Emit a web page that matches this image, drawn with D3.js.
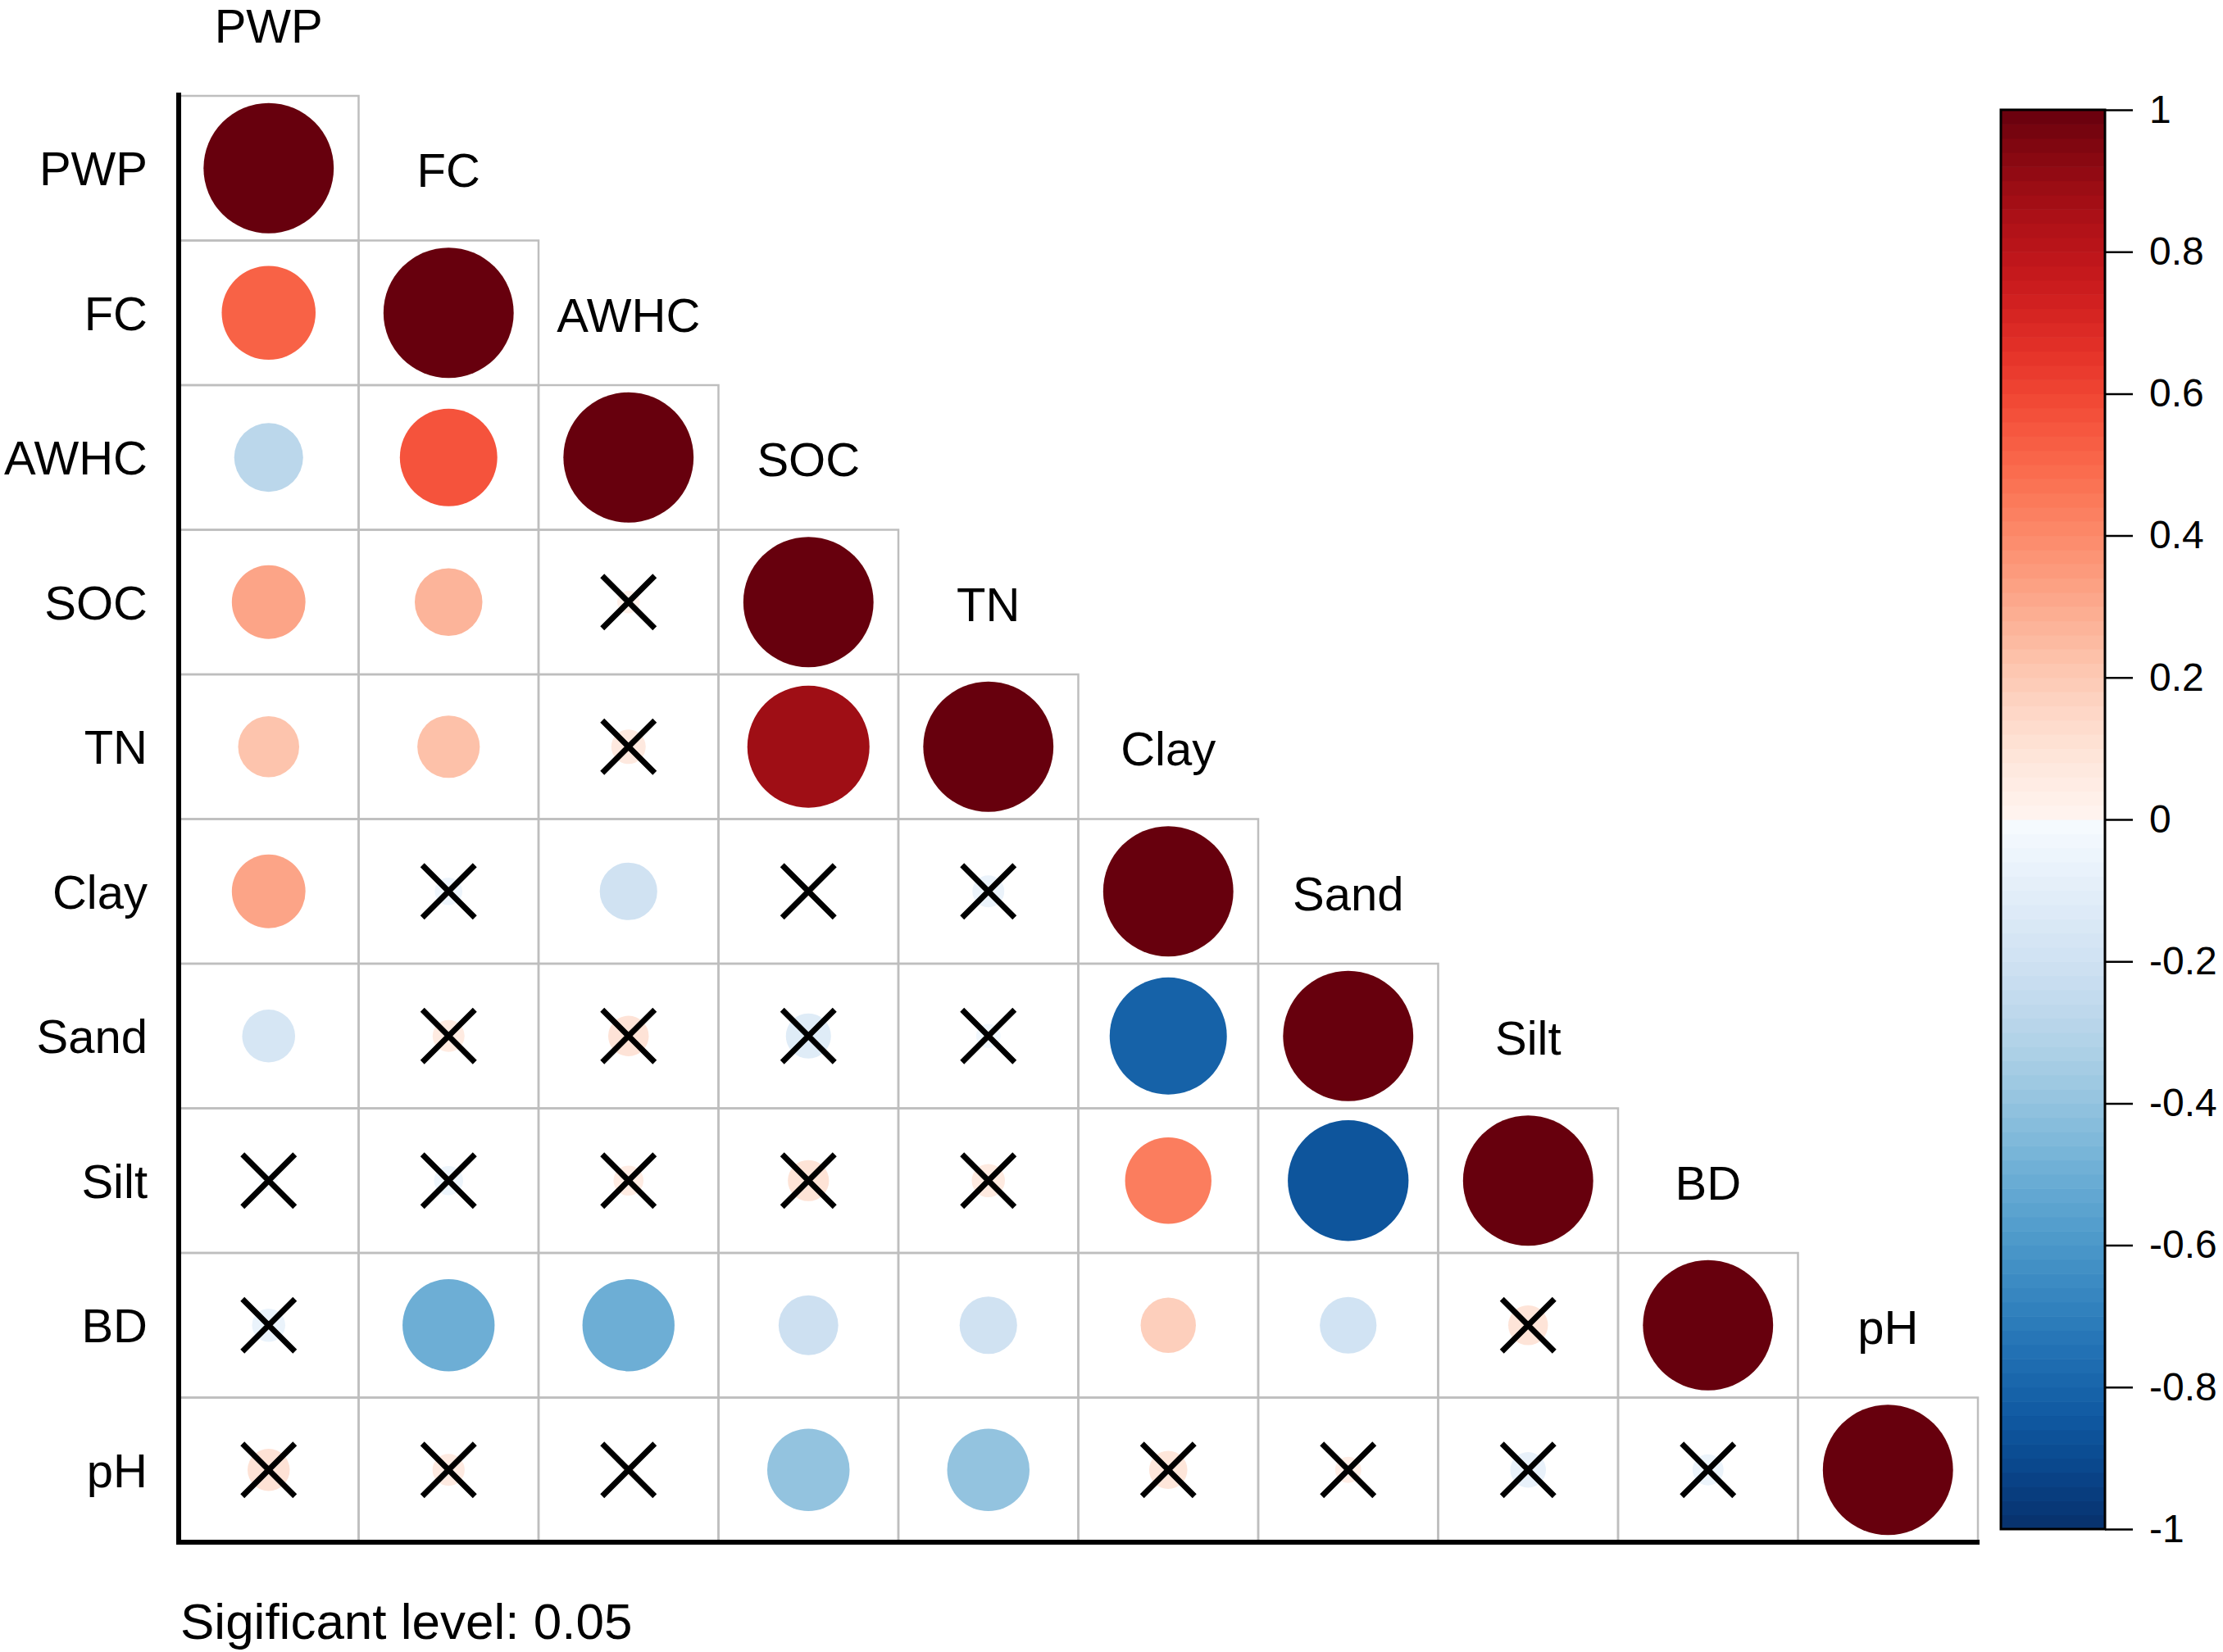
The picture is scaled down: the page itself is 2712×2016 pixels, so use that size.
<!DOCTYPE html>
<html>
<head>
<meta charset="utf-8">
<script src="https://cdn.jsdelivr.net/npm/d3@7"></script>
<style>
body { margin: 0; background: #fff; }
svg { display: block; }
</style>
</head>
<body>
<div id="chart"></div>
<script>
var w = 2712;
var h = 2016;
var font = "Arial, 'Liberation Sans', sans-serif";

// variables, lower triangle of correlations (row i, cols 0..i)
var vars = ["PWP", "FC", "AWHC", "SOC", "TN", "Clay", "Sand", "Silt", "BD", "pH"];
var corr = [
    [1],
    [0.52, 1],
    [-0.28, 0.56, 1],
    [0.32, 0.27, 0.03, 1],
    [0.22, 0.23, 0.07, 0.88, 1],
    [0.32, -0.045, -0.195, 0.01, -0.06, 1],
    [-0.165, 0.06, 0.097, -0.12, -0.035, -0.81, 1],
    [-0.02, -0.05, 0.053, 0.10, 0.065, 0.44, -0.86, 1],
    [-0.065, -0.50, -0.50, -0.21, -0.195, 0.18, -0.19, 0.093, 1],
    [0.105, 0.061, 0.01, -0.40, -0.40, 0.086, 0.04, -0.075, -0.057, 1]
];
// 1 = not significant at 0.05 (crossed)
var notSig = [
    [0],
    [0, 0],
    [0, 0, 0],
    [0, 0, 1, 0],
    [0, 0, 1, 0, 0],
    [0, 1, 0, 1, 1, 0],
    [0, 1, 1, 1, 1, 0, 0],
    [1, 1, 1, 1, 1, 0, 0, 0],
    [1, 0, 0, 0, 0, 0, 0, 1, 0],
    [1, 1, 1, 0, 0, 1, 1, 1, 1, 0]
];
var barTicks = [1, 0.8, 0.6, 0.4, 0.2, 0, -0.2, -0.4, -0.6, -0.8, -1];
var note = "Sigificant level: 0.05";

var cells = [];
corr.forEach(function(row, i) {
    row.forEach(function(v, j) {
        cells.push({row: vars[i], col: vars[j], v: v, ns: notSig[i][j]});
    });
});

function corrColor(v) {
    return v >= 0 ? d3.interpolateReds(v) : d3.interpolateBlues(-v);
}

var xScale = d3.scaleBand().domain(vars).range([218, 2413]);
var yScale = d3.scaleBand().domain(vars).range([117, 1882]);
var bw = xScale.bandwidth();
var bh = yScale.bandwidth();
var rScale = d3.scaleSqrt().domain([0, 1]).range([0, 0.45 * Math.min(bw, bh)]);

var svg = d3.select("#chart")
            .append("svg")
            .attr("width", w)
            .attr("height", h);

svg.append("rect").attr("width", w).attr("height", h).attr("fill", "#fff");

// cell borders
svg.selectAll("rect.cell")
    .data(cells)
    .enter()
    .append("rect")
    .attr("class", "cell")
    .attr("x", function(d) { return xScale(d.col); })
    .attr("y", function(d) { return yScale(d.row); })
    .attr("width", bw)
    .attr("height", bh)
    .attr("fill", "none")
    .attr("stroke", "#bebebe")
    .attr("stroke-width", 2.5);

// circles
svg.selectAll("circle.corr")
    .data(cells)
    .enter()
    .append("circle")
    .attr("class", "corr")
    .attr("cx", function(d) { return xScale(d.col) + bw / 2; })
    .attr("cy", function(d) { return yScale(d.row) + bh / 2; })
    .attr("r", function(d) { return rScale(Math.abs(d.v)); })
    .attr("fill", function(d) { return corrColor(d.v); });

// crosses for non-significant
var xs = 32;
svg.selectAll("path.cross")
    .data(cells.filter(function(d) { return d.ns; }))
    .enter()
    .append("path")
    .attr("class", "cross")
    .attr("d", function(d) {
        var cx = xScale(d.col) + bw / 2, cy = yScale(d.row) + bh / 2;
        return "M" + (cx - xs) + "," + (cy - xs) + "L" + (cx + xs) + "," + (cy + xs) +
               "M" + (cx - xs) + "," + (cy + xs) + "L" + (cx + xs) + "," + (cy - xs);
    })
    .attr("stroke", "#000")
    .attr("stroke-width", 7)
    .attr("fill", "none");

// row labels
svg.selectAll("text.rowlab")
    .data(vars)
    .enter()
    .append("text")
    .attr("class", "rowlab")
    .attr("x", 180)
    .attr("y", function(d) { return yScale(d) + bh / 2; })
    .attr("dy", "0.36em")
    .attr("text-anchor", "end")
    .attr("font-family", font)
    .attr("font-size", "58px")
    .text(function(d) { return d; });

// diagonal column labels (above each diagonal cell)
svg.selectAll("text.collab")
    .data(vars)
    .enter()
    .append("text")
    .attr("class", "collab")
    .attr("x", function(d) { return xScale(d) + bw / 2; })
    .attr("y", function(d) { return yScale(d) - bh / 2 + 2; })
    .attr("dy", "0.36em")
    .attr("text-anchor", "middle")
    .attr("font-family", font)
    .attr("font-size", "58px")
    .text(function(d) { return d; });

// axis lines
svg.append("line")
    .attr("x1", 218).attr("x2", 218).attr("y1", 113).attr("y2", 1885)
    .attr("stroke", "#000").attr("stroke-width", 6);
svg.append("line")
    .attr("x1", 215).attr("x2", 2415).attr("y1", 1882).attr("y2", 1882)
    .attr("stroke", "#000").attr("stroke-width", 6);

// colour bar
var cbY = d3.scaleLinear().domain([-1, 1]).range([1866, 134]);
var nBands = 100;
var bands = d3.range(nBands).map(function(i) { return -1 + i * 2 / nBands; });
svg.selectAll("rect.band")
    .data(bands)
    .enter()
    .append("rect")
    .attr("class", "band")
    .attr("x", 2441)
    .attr("width", 127)
    .attr("y", function(d) { return cbY(d + 2 / nBands); })
    .attr("height", function(d) { return cbY(d) - cbY(d + 2 / nBands) + 0.6; })
    .attr("fill", function(d) { return corrColor(d + 1 / nBands); });
svg.append("rect")
    .attr("x", 2441).attr("y", 134).attr("width", 127).attr("height", 1732)
    .attr("fill", "none").attr("stroke", "#000").attr("stroke-width", 3);

var cbAxis = d3.axisRight(cbY)
    .tickValues(barTicks)
    .tickSize(34)
    .tickPadding(20)
    .tickFormat(function(d) { return String(+d.toFixed(1)); });
var gAxis = svg.append("g").attr("transform", "translate(2568,0)").call(cbAxis);
gAxis.select(".domain").remove();
gAxis.selectAll(".tick line").attr("stroke", "#000").attr("stroke-width", 2.5);
gAxis.selectAll(".tick text")
    .attr("font-family", font)
    .attr("font-size", "48px")
    .attr("fill", "#000");

// note
svg.append("text")
    .attr("x", 220)
    .attr("y", 2000)
    .attr("font-family", font)
    .attr("font-size", "62px")
    .text(note);
</script>
</body>
</html>
